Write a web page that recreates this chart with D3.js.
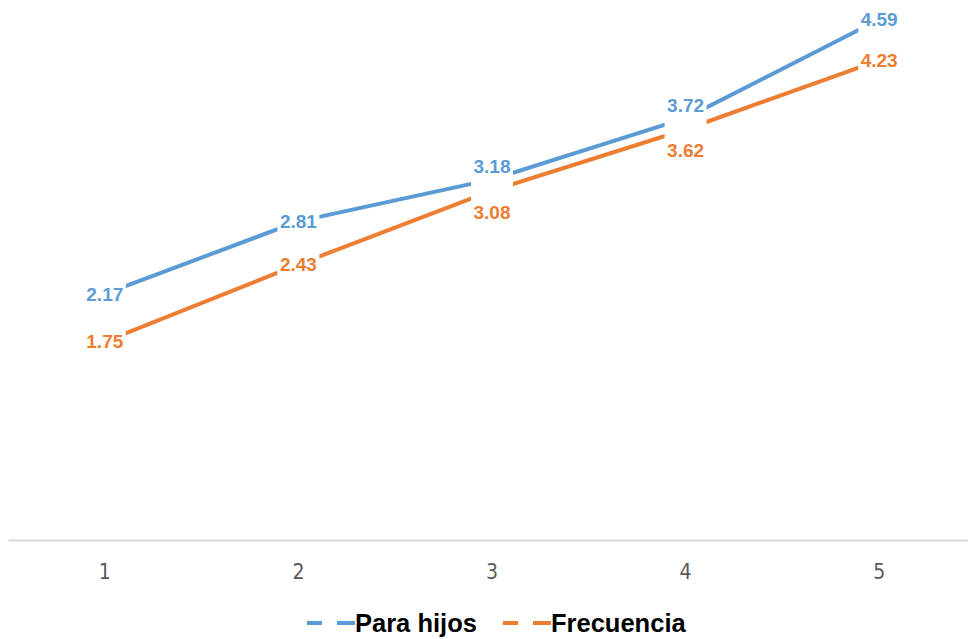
<!DOCTYPE html>
<html>
<head>
<meta charset="utf-8">
<script src="https://cdn.jsdelivr.net/npm/d3@7/dist/d3.min.js"></script>
<style>
  body { margin: 0; background: #fff; }
  svg { display: block; }
</style>
</head>
<body>
<svg></svg>
<script>
// data
var categories = ["1", "2", "3", "4", "5"];
var paraHijos = [2.17, 2.81, 3.18, 3.72, 4.59];
var frecuencia = [1.75, 2.43, 3.08, 3.62, 4.23];
var seriesNames = ["Para hijos", "Frecuencia"];

// where excel put the labels (0 = on the point, -1 above, 1 below)
var labelShiftHijos = [0, 0, -1, -1, 0];
var labelShiftFrec = [0, 0, 1, 1, 0];

window.onload = function(){
    var width = 968, height = 639;
    var svgCanvas = d3.select("svg")
        .attr("width", width)
        .attr("height", height);

    var x = d3.scaleBand()
        .domain(categories)
        .range([8, 976]);
    var y = d3.scaleLinear()
        .domain([0, 5])
        .range([540, -27]);

    var series = [
        { name: seriesNames[0], values: paraHijos, color: "#5B9BD5", shift: labelShiftHijos },
        { name: seriesNames[1], values: frecuencia, color: "#ED7D31", shift: labelShiftFrec }
    ];

    function cx(i){ return x(categories[i]) + x.bandwidth() / 2; }

    // x axis
    var xAxis = d3.axisBottom(x).tickSize(0).tickPadding(24);
    var gx = svgCanvas.append("g")
        .attr("transform", "translate(0,540)")
        .call(xAxis);
    gx.select(".domain")
        .attr("stroke", "#d9d9d9")
        .attr("stroke-width", 2);
    gx.selectAll("text")
        .attr("fill", "#595959")
        .style("font-family", "'Liberation Sans Narrow', 'DejaVu Sans Condensed', sans-serif")
        .style("font-size", "21px");

    var line = d3.line()
        .x(function(d, i){ return cx(i); })
        .y(function(d){ return y(d); });

    series.forEach(function(s){
        svgCanvas.append("path")
            .datum(s.values)
            .attr("fill", "none")
            .attr("stroke", s.color)
            .attr("stroke-width", 4)
            .attr("d", line);
    });

    // labels with white boxes that cut the line
    series.forEach(function(s){
        var g = svgCanvas.append("g");
        s.values.forEach(function(v, i){
            var py = y(v);
            var ly = py;
            if (s.shift[i] < 0) ly = py - 13;
            if (s.shift[i] > 0) ly = py + 21;
            var top = ly - 13, bottom = ly + 13;
            if (s.shift[i] < 0) bottom = py + 6;
            if (s.shift[i] > 0) top = py - 6;
            g.append("rect")
                .attr("x", cx(i) - 21)
                .attr("y", top)
                .attr("width", 42)
                .attr("height", bottom - top)
                .attr("fill", "#fff");
            g.append("text")
                .attr("x", cx(i))
                .attr("y", ly)
                .attr("dy", "0.36em")
                .attr("text-anchor", "middle")
                .attr("fill", s.color)
                .style("font-family", "'Liberation Sans', Arial, sans-serif")
                .style("font-weight", "bold")
                .style("font-size", "19px")
                .text(v.toFixed(2));
        });
    });

    // legend
    var legend = svgCanvas.append("g");
    var legendX = [307, 503];
    series.forEach(function(s, i){
        var lg = legend.append("g").attr("transform", "translate(" + legendX[i] + ",623)");
        lg.append("line")
            .attr("x1", 0).attr("x2", 15)
            .attr("stroke", s.color).attr("stroke-width", 4);
        lg.append("line")
            .attr("x1", 30).attr("x2", 48)
            .attr("stroke", s.color).attr("stroke-width", 4);
        lg.append("text")
            .attr("x", 48)
            .attr("dy", "0.36em")
            .attr("fill", "#000")
            .style("font-family", "'Liberation Sans', Arial, sans-serif")
            .style("font-weight", "bold")
            .style("font-size", "25.5px")
            .text(s.name);
    });
};
</script>
</body>
</html>
